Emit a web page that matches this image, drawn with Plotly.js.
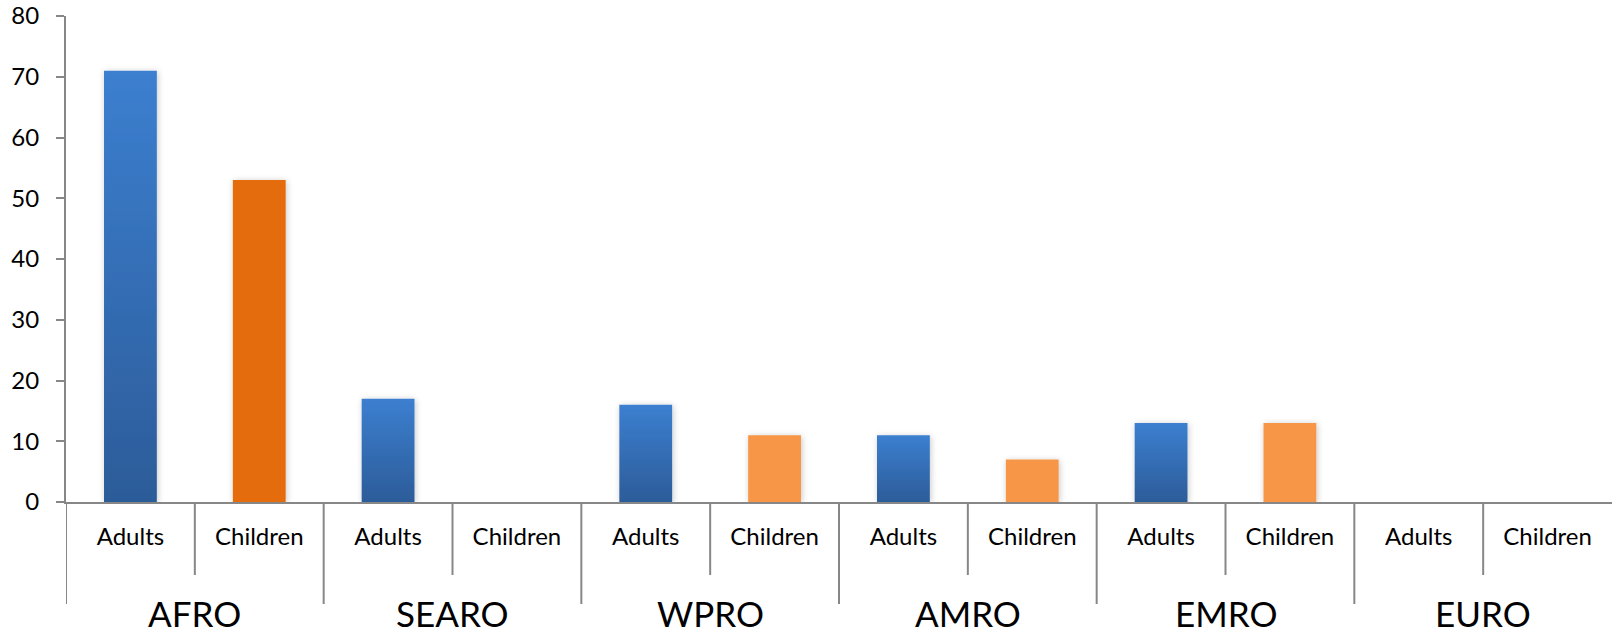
<!DOCTYPE html>
<html>
<head>
<meta charset="utf-8">
<script src="https://cdn.plot.ly/plotly-3.0.1.min.js"></script>
<style>
  html, body { margin: 0; padding: 0; background: #fff; }
  #chart { width: 1612px; height: 630px; }
</style>
</head>
<body>
<div id="chart"></div>
<script>
// ---- Data ----
const regions = ["AFRO", "SEARO", "WPRO", "AMRO", "EMRO", "EURO"];
const subgroups = ["Adults", "Children"];
const adultsValues = [71, 17, 16, 11, 13, 0];
const childrenValues = [53, 0, 11, 7, 13, 0];
const yTickValues = [0, 10, 20, 30, 40, 50, 60, 70, 80];

// ---- Styles ----
const axisGray = "#878787";
const fontFam = "Lato, 'Open Sans', sans-serif";
const childColors = regions.map((r, i) => i === 0 ? "#E46C0A" : "#F79646");

const categoryIds = [];
const categoryText = [];
regions.forEach(r => subgroups.forEach(s => { categoryIds.push(r + " " + s); categoryText.push(s); }));

const traceAdults = {
  type: "bar",
  x: regions.map(r => r + " " + subgroups[0]),
  y: adultsValues,
  marker: { color: "#3470BA", line: { width: 0 } },
  hoverinfo: "skip"
};
const traceChildren = {
  type: "bar",
  x: regions.map(r => r + " " + subgroups[1]),
  y: childrenValues,
  marker: { color: childColors, line: { width: 0 } },
  hoverinfo: "skip"
};

// divider shapes and group annotations, built from category arrays
const plotH = 630 - 15.7 - 128.3;
const shapes = [];
categoryIds.forEach((c, i) => {
  const isGroupEdge = i % subgroups.length === 0;
  const lenPx = isGroupEdge ? 102 : 73;
  shapes.push({
    type: "line", xref: "x", yref: "paper",
    x0: i - 0.5, x1: i - 0.5, y0: 0, y1: -lenPx / plotH,
    line: { color: axisGray, width: 2 }
  });
});
const annotations = regions.map((r, g) => ({
  xref: "x", yref: "paper",
  x: g * subgroups.length + (subgroups.length - 1) / 2,
  y: -(613 - 501.7) / plotH,
  text: r, showarrow: false,
  xanchor: "center", yanchor: "middle",
  font: { family: fontFam, size: 35, color: "#000" }
}));

const layout = {
  width: 1612, height: 630,
  margin: { l: 66, r: 0, t: 15.7, b: 128.3, pad: 0 },
  paper_bgcolor: "#fff", plot_bgcolor: "#fff",
  showlegend: false,
  barmode: "overlay",
  bargap: 0.59,
  font: { family: fontFam, size: 24, color: "#000" },
  xaxis: {
    type: "category",
    categoryorder: "array", categoryarray: categoryIds,
    tickmode: "array", tickvals: categoryIds, ticktext: categoryText,
    showline: true, linecolor: axisGray, linewidth: 2,
    showgrid: false, zeroline: false,
    ticks: "", ticklabelstandoff: 12,
    tickfont: { family: fontFam, size: 24, color: "#000" },
    range: [-0.5, categoryIds.length - 0.5],
    fixedrange: true
  },
  yaxis: {
    range: [0, 80],
    tickmode: "array", tickvals: yTickValues,
    showline: true, linecolor: axisGray, linewidth: 2,
    showgrid: false, zeroline: false,
    ticks: "outside", ticklen: 8, tickwidth: 2, tickcolor: axisGray,
    ticklabelstandoff: 12,
    tickfont: { family: fontFam, size: 24, color: "#000" },
    fixedrange: true
  },
  shapes: shapes,
  annotations: annotations
};

Plotly.newPlot("chart", [traceAdults, traceChildren], layout, { displayModeBar: false, staticPlot: true }).then(gd => {
  const svg = gd.querySelector("svg.main-svg");
  const ns = "http://www.w3.org/2000/svg";
  let defs = svg.querySelector("defs");
  if (!defs) { defs = document.createElementNS(ns, "defs"); svg.insertBefore(defs, svg.firstChild); }
  const grad = document.createElementNS(ns, "linearGradient");
  grad.setAttribute("id", "blueGrad");
  grad.setAttribute("x1", "0"); grad.setAttribute("y1", "0");
  grad.setAttribute("x2", "0"); grad.setAttribute("y2", "1");
  [["0", "#3C7FD0"], ["1", "#2C5C99"]].forEach(([o, c]) => {
    const st = document.createElementNS(ns, "stop");
    st.setAttribute("offset", o); st.setAttribute("stop-color", c);
    grad.appendChild(st);
  });
  defs.appendChild(grad);
  const filt = document.createElementNS(ns, "filter");
  filt.setAttribute("id", "barShadow");
  filt.setAttribute("x", "-30%"); filt.setAttribute("y", "-10%");
  filt.setAttribute("width", "160%"); filt.setAttribute("height", "120%");
  const ds = document.createElementNS(ns, "feDropShadow");
  ds.setAttribute("dx", "1"); ds.setAttribute("dy", "1");
  ds.setAttribute("stdDeviation", "3");
  ds.setAttribute("flood-color", "#000"); ds.setAttribute("flood-opacity", "0.22");
  filt.appendChild(ds);
  defs.appendChild(filt);
  const traces = gd.querySelectorAll("g.trace.bars");
  traces.forEach((t, ti) => {
    t.querySelectorAll("g.point path").forEach(p => {
      if (ti === 0) p.style.fill = "url(#blueGrad)";
      p.style.filter = "url(#barShadow)";
    });
  });
});
</script>
</body>
</html>
